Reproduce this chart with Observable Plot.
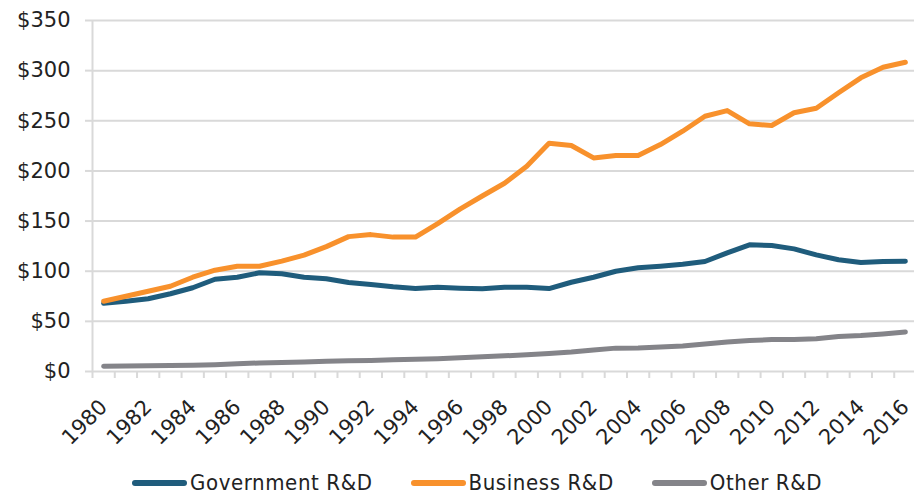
<!DOCTYPE html>
<html>
<head>
<meta charset="utf-8">
<script src="https://cdn.jsdelivr.net/npm/d3@7"></script>
<script src="https://cdn.jsdelivr.net/npm/@observablehq/plot@0.6"></script>
<style>
  html, body { margin: 0; padding: 0; background: #fff; }
  #wrap { position: relative; width: 914px; height: 496px; overflow: hidden; }
  #legend { position: absolute; left: 132px; top: 472px; height: 22px; line-height: 22px; display: flex; align-items: center;
            font-family: "DejaVu Sans Condensed", "DejaVu Sans", sans-serif; font-stretch: condensed;
            font-size: 22px; letter-spacing: 0.6px; color: #222; white-space: nowrap; }
  .item { display: flex; align-items: center; margin-right: 38px; height: 22px; }
  .sw { width: 55px; height: 6px; border-radius: 3px; margin-right: 3px; }
</style>
</head>
<body>
<div id="wrap"><div id="chart"></div><div id="legend"></div></div>
<script>
const years = [1980,1981,1982,1983,1984,1985,1986,1987,1988,1989,1990,1991,1992,1993,1994,1995,1996,1997,1998,1999,2000,2001,2002,2003,2004,2005,2006,2007,2008,2009,2010,2011,2012,2013,2014,2015,2016];
const labelYears = [1980,1982,1984,1986,1988,1990,1992,1994,1996,1998,2000,2002,2004,2006,2008,2010,2012,2014,2016];
const seriesNames = ["Government R&D", "Business R&D", "Other R&D"];
const seriesColors = ["#1F5C7C", "#F8912C", "#848489"];
const government = [68,70,72.5,77.5,83.5,92,94,98.4,97.4,94,92.4,88.7,86.7,84.4,82.7,84,83,82.4,84,84,82.7,89,94,100,103.4,105,107,109.7,118.3,126.3,125.6,122.3,116.3,111.4,108.7,109.7,110];
const business = [70,75,80,85,94,101,105,105,110,116,124.5,134.5,136.5,134,134,147.5,162,175,187.7,204.7,227.6,225.3,213,215.3,215.3,226.3,239.6,254.5,260.2,247,245.3,258,262.5,278,292.8,303.4,308.4];
const other = [5.2,5.5,5.8,6.0,6.3,6.8,7.7,8.5,9.0,9.5,10.2,10.6,11.0,11.6,12.1,12.7,13.6,14.6,15.6,16.6,18.0,19.5,21.5,23.3,23.5,24.5,25.5,27.5,29.5,30.8,31.8,32.0,32.6,34.8,35.8,37.5,39.5];
const yTicks = [0,50,100,150,200,250,300,350];
const yTickLabels = ["$0","$50","$100","$150","$200","$250","$300","$350"];

const seriesValues = [government, business, other];
const rows = [];
seriesNames.forEach((name, s) => {
  years.forEach((yr, i) => rows.push({year: yr, value: seriesValues[s][i], series: name}));
});
const boundaries = years.map(y => y - 0.5).concat([years[years.length - 1] + 0.5]);

const chart = Plot.plot({
  width: 914,
  height: 450,
  marginLeft: 92,
  marginRight: 0,
  marginTop: 20,
  marginBottom: 79,
  style: {fontFamily: "DejaVu Sans, sans-serif", fontSize: "21px", color: "#222", background: "#fff", overflow: "visible"},
  x: {type: "linear", label: null, domain: [boundaries[0], boundaries[boundaries.length - 1]], range: [92, 916]},
  y: {label: null, domain: [0, 350]},
  color: {domain: seriesNames, range: seriesColors},
  marks: [
    Plot.gridY(yTicks, {stroke: "#D9D9D9", strokeOpacity: 1, strokeWidth: 2}),
    Plot.ruleX([boundaries[0]], {y1: 0, y2: 350, stroke: "#D9D9D9", strokeWidth: 2}),
    Plot.axisY(yTicks, {label: null, tickSize: 7, tickPadding: 15, stroke: "#D9D9D9", strokeWidth: 2,
      fill: "#222", fontSize: 21, letterSpacing: 1.5,
      tickFormat: d => yTickLabels[yTicks.indexOf(d)]}),
    Plot.axisX(boundaries, {label: null, tickSize: 7, stroke: "#D9D9D9", strokeWidth: 2, tickFormat: () => ""}),
    Plot.axisX(labelYears, {label: null, tickSize: 0, tickPadding: 32, tickRotate: -45, fill: "#222", fontSize: 21,
      tickFormat: d => String(d)}),
    Plot.line(rows, {x: "year", y: "value", stroke: "series", z: "series", strokeWidth: 5,
      strokeLinecap: "round", strokeLinejoin: "round"})
  ]
});
document.getElementById("chart").appendChild(chart);

const legend = document.getElementById("legend");
seriesNames.forEach((name, i) => {
  const it = document.createElement("div");
  it.className = "item";
  const sw = document.createElement("div");
  sw.className = "sw";
  sw.style.background = seriesColors[i];
  const tx = document.createElement("span");
  tx.textContent = name;
  it.appendChild(sw);
  it.appendChild(tx);
  legend.appendChild(it);
});
</script>
</body>
</html>
